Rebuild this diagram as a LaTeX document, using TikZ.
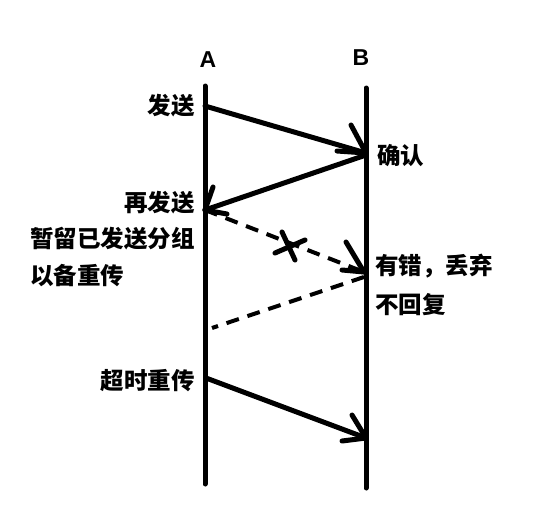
\documentclass[tikz,border=0pt]{standalone}
\usepackage{fontspec}
\newfontfamily\cjk{Noto Sans CJK SC}
\newfontfamily\lat{Liberation Sans}
\tikzset{
  life/.style={line width=5pt, line cap=round},
  msg/.style={line width=5pt, line cap=round},
  barb/.style={line width=5pt, line cap=round},
  dmsg/.style={line width=4pt, dash pattern=on 13pt off 9pt},
  lbl/.style={font=\cjk\bfseries\fontsize{23.5}{23.5}\selectfont, inner sep=0pt},
  hdr/.style={font=\lat\bfseries\fontsize{23}{23}\selectfont, inner sep=0pt},
}
\begin{document}
\begin{tikzpicture}[x=1pt,y=-1pt]
\useasboundingbox (0,0) rectangle (534,523);
% lifelines
\coordinate (Atop) at (205,86);
\coordinate (Abot) at (205,484);
\coordinate (Btop) at (366,88);
\coordinate (Bbot) at (366,488);
\draw[life] (Atop) -- (Abot);
\draw[life] (Btop) -- (Bbot);
\node[hdr] (hA) at (208,60) {A};
\node[hdr] (hB) at (361,58) {B};
% message points
\coordinate (A1) at (205,106);
\coordinate (B1) at (366,153);
\coordinate (B2) at (366,155);
\coordinate (A2) at (205,210);
\coordinate (B3) at (364,272);
\coordinate (B4) at (364,277);
\coordinate (A4) at (212,328);
\coordinate (A5) at (206,378);
\coordinate (B5) at (366,438);
% arrow 1
\draw[msg] (A1) -- (B1);
\draw[barb] (351,125) -- (B1);
\draw[barb] (337,151) -- (B1);
% arrow 2
\draw[msg] (B2) -- (A2);
\draw[barb] (213,187) -- (A2);
\draw[barb] (227,214) -- (A2);
% dashed lost message
\draw[dmsg] (A2) -- (B3);
\draw[barb] (346,242) -- (B3);
\draw[barb] (342,270) -- (B3);
\draw[barb] (282,232) -- (295,260);
\draw[barb] (275,253) -- (305,240);
% dashed no reply
\draw[dmsg] (B4) -- (A4);
% timeout retransmission
\draw[msg] (A5) -- (B5);
\draw[barb] (352,415) -- (B5);
\draw[barb] (342,441) -- (B5);
% labels
\node[lbl, anchor=east] (l1) at (195,106) {发送};
\node[lbl, anchor=west] (l2) at (377,156) {确认};
\node[lbl, anchor=east] (l3) at (195,203) {再发送};
\node[lbl, anchor=east] (l4) at (195,239) {暂留已发送分组};
\node[lbl, anchor=west] (l5) at (30,276) {以备重传};
\node[lbl, anchor=west] (l6) at (375,266) {有错，丢弃};
\node[lbl, anchor=west] (l7) at (375,305) {不回复};
\node[lbl, anchor=east] (l8) at (195,381) {超时重传};
\end{tikzpicture}
\end{document}
